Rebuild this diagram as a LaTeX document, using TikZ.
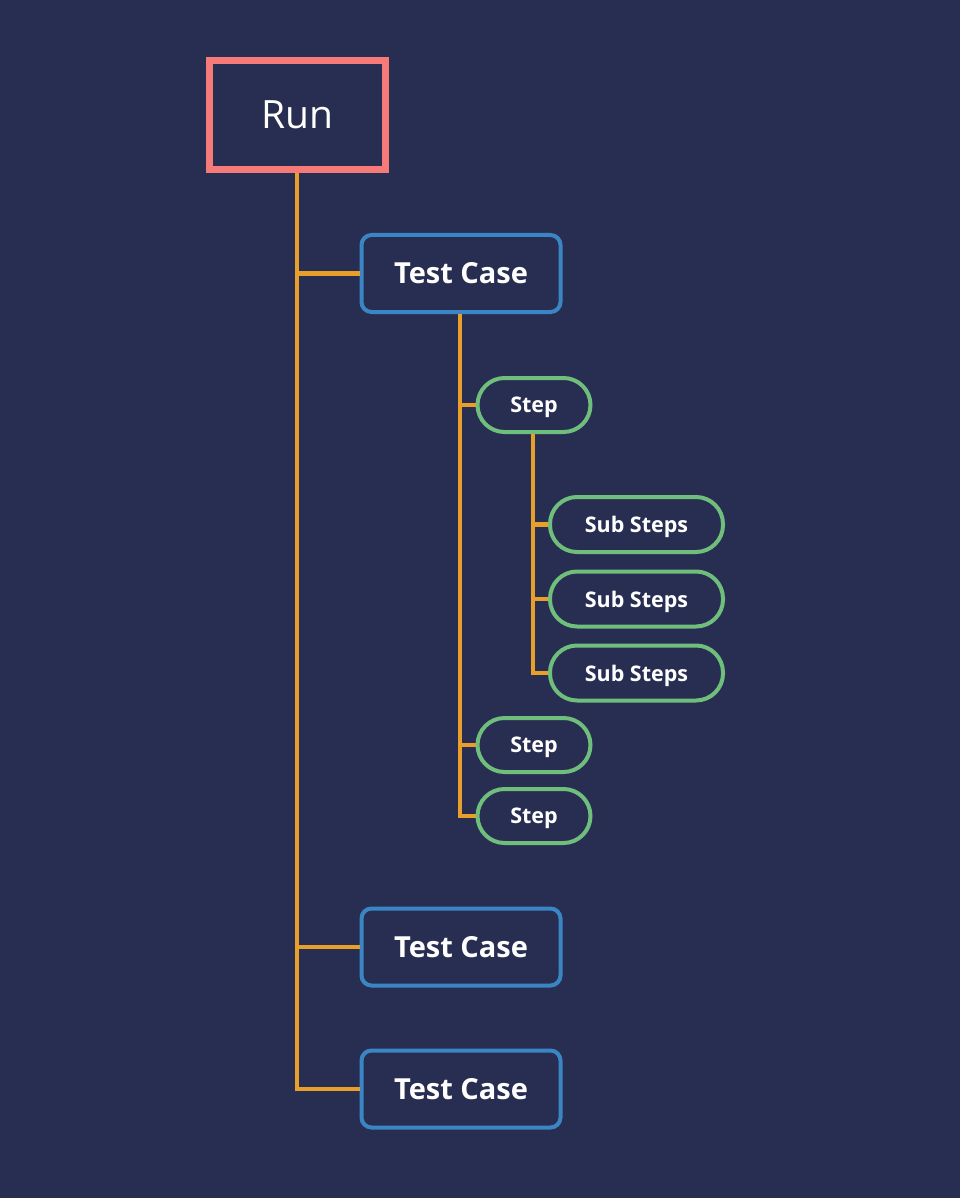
\documentclass[tikz,border=0pt]{standalone}
\usepackage{fontspec}
\setmainfont{Open Sans}
\definecolor{bgnavy}{HTML}{282E52}
\definecolor{runred}{HTML}{F57A78}
\definecolor{caseblue}{HTML}{3A86C4}
\definecolor{stepgreen}{HTML}{6FBE7C}
\definecolor{lineorange}{HTML}{E9A02B}

\begin{document}
\begin{tikzpicture}[x=1pt,y=-1pt,
		runbox/.style={draw=runred,line width=7pt,minimum width=176pt,minimum height=109pt,inner sep=0pt,text=white,font=\fontsize{39}{39}\selectfont},
		casebox/.style={draw=caseblue,line width=4pt,rounded corners=10pt,minimum width=199pt,minimum height=77pt,inner sep=0pt,text=white,font=\fontsize{29}{29}\selectfont\bfseries},
		stepbox/.style={draw=stepgreen,line width=4pt,rounded corners=27pt,minimum width=113pt,minimum height=54pt,inner sep=0pt,text depth=0pt,text=white,font=\fontsize{21.5}{21.5}\selectfont\bfseries},
		subbox/.style={stepbox,minimum width=173pt,minimum height=55pt},
		branch/.style={draw=lineorange,line width=4.5pt}]
		\fill[bgnavy](0,0) rectangle (960,1198);
		\useasboundingbox(0,0) rectangle (960,1198);
		% tree of boxes
		\node[runbox](run) at (297,115) {Run};
		\node[casebox](tc1) at (461,273.5) {Test Case};
		\node[casebox](tc2) at (461,947) {Test Case};
		\node[casebox](tc3) at (461,1089) {Test Case};
		\node[stepbox](st1) at (534,405) {Step};
		\node[stepbox](st2) at (534,745) {Step};
		\node[stepbox](st3) at (534,816) {Step};
		\node[subbox](sub1) at (636.5,524.5) {Sub Steps};
		\node[subbox](sub2) at (636.5,599) {Sub Steps};
		\node[subbox](sub3) at (636.5,673) {Sub Steps};
		% connectors
		\draw[branch](run.south) |- (tc1.west);
		\draw[branch](run.south) |- (tc2.west);
		\draw[branch](run.south) |- (tc3.west);
		\draw[branch]([xshift=-1pt]tc1.south) |- (st1.west);
		\draw[branch]([xshift=-1pt]tc1.south) |- (st2.west);
		\draw[branch]([xshift=-1pt]tc1.south) |- (st3.west);
		\draw[branch]([xshift=-1pt]st1.south) |- (sub1.west);
		\draw[branch]([xshift=-1pt]st1.south) |- (sub2.west);
		\draw[branch]([xshift=-1pt]st1.south) |- (sub3.west);
		\end{tikzpicture}
\end{document}
